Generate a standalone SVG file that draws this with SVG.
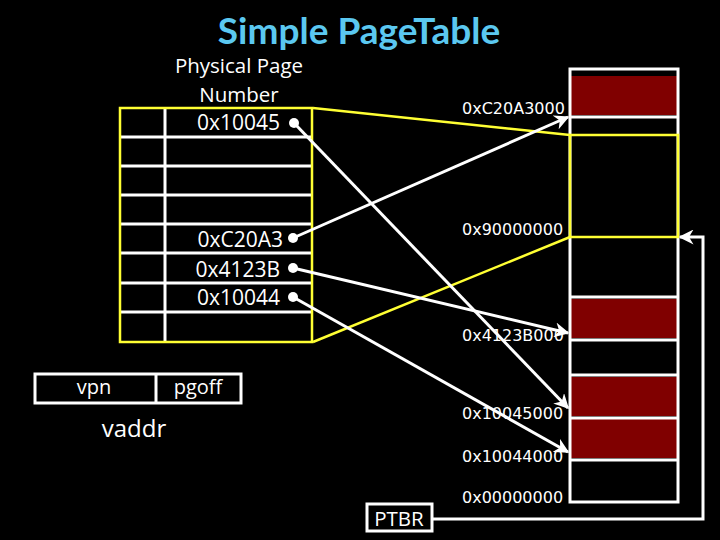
<svg xmlns="http://www.w3.org/2000/svg" width="720" height="540" viewBox="0 0 720 540">
<defs>
<style>
.t{font-family:"Open Sans","Liberation Sans",sans-serif;fill:#fff}
.m{font-family:"DejaVu Sans",sans-serif;font-size:16px;fill:#fff}
.w{stroke:#fff;stroke-width:3;fill:none}
.y{stroke:#ffff33;stroke-width:2.5;fill:none}
.red{fill:#800000}
.arr{stroke:#fff;stroke-width:3;fill:none;marker-end:url(#ah)}
</style>
<marker id="ah" viewBox="0 0 10 10" refX="9" refY="5" markerWidth="5" markerHeight="5" orient="auto" markerUnits="strokeWidth">
<path d="M0,0 L10,5 L0,10 L3,5 Z" fill="#fff"/>
</marker>
</defs>
<rect width="720" height="540" fill="#000"/>
<text x="359" y="44" text-anchor="middle" font-family="Lato,'Open Sans',sans-serif" font-weight="bold" font-size="37" fill="#5bc8f0">Simple PageTable</text>

<g id="pagetable">
<text class="t" x="239" y="73" text-anchor="middle" font-size="20.5">Physical Page</text>
<text class="t" x="239" y="102" text-anchor="middle" font-size="20.5">Number</text>
<g class="w">
<line x1="120" y1="137" x2="312" y2="137"/>
<line x1="120" y1="166" x2="312" y2="166"/>
<line x1="120" y1="195" x2="312" y2="195"/>
<line x1="120" y1="224" x2="312" y2="224"/>
<line x1="120" y1="253" x2="312" y2="253"/>
<line x1="120" y1="283" x2="312" y2="283"/>
<line x1="120" y1="312" x2="312" y2="312"/>
<line x1="165" y1="108" x2="165" y2="342"/>
</g>
<rect class="y" x="120" y="108" width="192" height="234" stroke-width="3"/>
<text class="t" x="280" y="130" text-anchor="end" font-size="21">0x10045</text>
<text class="t" x="283" y="247" text-anchor="end" font-size="21">0xC20A3</text>
<text class="t" x="280" y="277" text-anchor="end" font-size="21">0x4123B</text>
<text class="t" x="280" y="305" text-anchor="end" font-size="21">0x10044</text>
<circle cx="294" cy="123" r="5" fill="#fff"/>
<circle cx="293" cy="238" r="5" fill="#fff"/>
<circle cx="293" cy="268" r="5" fill="#fff"/>
<circle cx="293" cy="297" r="5" fill="#fff"/>
</g>

<g id="memory">
<rect class="red" x="571" y="76" width="107" height="39"/>
<rect class="red" x="571" y="299" width="107" height="39"/>
<rect class="red" x="571" y="377" width="107" height="39"/>
<rect class="red" x="571" y="419" width="107" height="39"/>
<g class="w">
<rect x="570" y="69" width="108" height="433"/>
<line x1="570" y1="117" x2="678" y2="117"/>
<line x1="570" y1="297" x2="678" y2="297"/>
<line x1="570" y1="340" x2="678" y2="340"/>
<line x1="570" y1="375" x2="678" y2="375"/>
<line x1="570" y1="418" x2="678" y2="418"/>
<line x1="570" y1="460" x2="678" y2="460"/>
</g>
<rect class="y" x="570" y="135" width="108" height="102" stroke-width="3"/>
<text class="m" x="462" y="114">0xC20A3000</text>
<text class="m" x="462" y="235">0x90000000</text>
<text class="m" x="462" y="341">0x4123B000</text>
<text class="m" x="462" y="419">0x10045000</text>
<text class="m" x="462" y="462">0x10044000</text>
<text class="m" x="462" y="503">0x00000000</text>
</g>

<g id="vaddr">
<rect class="w" x="35" y="374" width="206" height="29"/>
<line class="w" x1="156" y1="374" x2="156" y2="403"/>
<text class="t" x="94" y="394" text-anchor="middle" font-size="20">vpn</text>
<text class="t" x="198" y="394" text-anchor="middle" font-size="20">pgoff</text>
<text class="t" x="134" y="437" text-anchor="middle" font-size="24">vaddr</text>
</g>

<g id="ptbr">
<rect class="w" x="367" y="504" width="65" height="27"/>
<text class="t" x="399" y="526" text-anchor="middle" font-size="20.5">PTBR</text>
</g>

<g id="connectors">
<line class="y" x1="313" y1="108" x2="570" y2="135"/>
<line class="y" x1="313" y1="342" x2="570" y2="237"/>
<line class="arr" x1="294" y1="123" x2="568" y2="408"/>
<line class="arr" x1="293" y1="238" x2="568" y2="117"/>
<line class="arr" x1="293" y1="268" x2="568" y2="333"/>
<line class="arr" x1="293" y1="297" x2="568" y2="452"/>
<polyline class="arr" points="432,519 703,519 703,237 680,237"/>
</g>
</svg>
